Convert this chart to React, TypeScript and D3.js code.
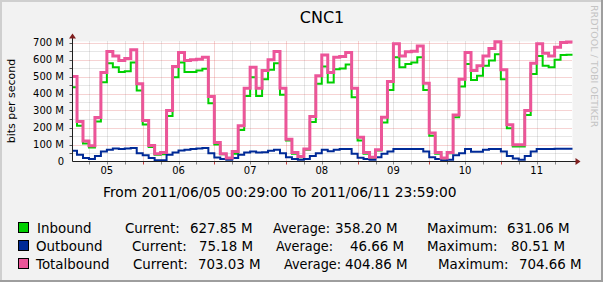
import React from "react";
import * as d3 from "d3";

const title = "CNC1";
const yLabel = "bits per second";
const dayLabels = ["05", "06", "07", "08", "09", "10", "11"];
const yTicks = [0, 100, 200, 300, 400, 500, 600, 700];
const startHour = 29 / 60; // 2011/06/05 00:29
const endHour = 168; // 2011/06/11 24:00
const binHours = 2;

const inbound = [
  437, 210, 106, 82, 235, 466, 578, 555, 527, 531, 582, 417, 218, 85,
  39, 43, 268, 496, 582, 527, 527, 535, 545, 343, 100, 43, 16, 45,
  186, 386, 496, 386, 484, 539, 578, 392, 123, 45, 25, 69, 233, 457,
  559, 465, 543, 547, 570, 378, 123, 45, 20, 65, 229, 421, 613, 555,
  574, 582, 613, 421, 151, 45, 16, 49, 261, 441, 574, 480, 504, 563,
  594, 631, 484, 196, 88, 88, 274, 515, 621, 563, 555, 598, 627, 628,
];
const outbound = [
  63, 39, 20, 14, 33, 59, 69, 76, 73, 76, 80, 49, 37, 20,
  8, 8, 39, 53, 65, 69, 73, 76, 80, 49, 24, 14, 10, 20,
  40, 53, 59, 53, 55, 63, 69, 49, 25, 14, 10, 14, 33, 49,
  69, 61, 69, 73, 73, 45, 22, 14, 10, 25, 45, 59, 73, 73,
  73, 73, 73, 59, 25, 14, 6, 10, 37, 49, 73, 57, 57, 69,
  73, 73, 59, 33, 18, 10, 33, 59, 73, 74, 74, 75, 75, 75,
];
const totalbound = [
  500, 235, 120, 92, 259, 523, 647, 621, 594, 606, 657, 457, 241, 94,
  45, 53, 300, 559, 641, 594, 598, 602, 613, 382, 112, 45, 20, 59,
  210, 431, 555, 431, 535, 598, 647, 431, 131, 53, 29, 73, 265, 504,
  627, 523, 613, 617, 641, 431, 143, 53, 25, 69, 261, 470, 692, 621,
  645, 649, 680, 461, 167, 53, 20, 53, 274, 484, 641, 535, 563, 621,
  664, 704, 539, 216, 98, 98, 300, 578, 692, 637, 621, 672, 700, 703,
];

const seriesNames = ["Inbound", "Outbound", "Totalbound"];
const seriesColors = ["#00CF00", "#002A97", "#EC5599"];
const currentVals = ["627.85 M", "75.18 M", "703.03 M"];
const averageVals = ["358.20 M", "46.66 M", "404.86 M"];
const maximumVals = ["631.06 M", "80.51 M", "704.66 M"];
const footer = "From 2011/06/05 00:29:00 To 2011/06/11 23:59:00";

const W = 603;
const H = 282;
const FONT = "'DejaVu Sans', sans-serif";

function stepPoints(vals: number[]): [number, number][] {
  const pts: [number, number][] = [];
  vals.forEach((v, k) => {
    const s = Math.max(startHour, k * binHours);
    const e = Math.min(endHour, (k + 1) * binHours);
    pts.push([s, v], [e, v]);
  });
  return pts;
}

export default function App() {
  const x = d3.scaleLinear().domain([startHour, endHour]).range([72.5, 572.5]);
  const y = d3.scaleLinear().domain([0, 700]).range([161.5, 42.5]);
  const line = d3
    .line<[number, number]>()
    .x((d) => x(d[0]))
    .y((d) => y(d[1]));

  const minorH = d3.range(50, 701, 100);
  const majorH = d3.range(100, 701, 100);
  const minorV = d3.range(6, endHour, 6).filter((h) => h % 24 !== 0);
  const majorV = d3.range(24, endHour, 24);

  const left = 72.5;
  const right = 572.5;
  const top = 41.5;
  const bottom = 161.5;

  const rows = [233, 251, 269];
  const legendX = [
    [37, 125, 190, 273, 335, 427, 507],
    [36, 132, 199, 276, 350, 427, 511],
    [36, 133, 198, 284, 345, 438, 519],
  ];
  const series = [inbound, outbound, totalbound];
  const widths = [2, 2, 3];

  return (
    <svg
      width={W}
      height={H}
      style={{ position: "absolute", left: 0, top: 0, display: "block" }}
      fontFamily={FONT}
    >
      <rect x={0} y={0} width={W} height={H} fill="#F2F2F2" />
      {/* frame */}
      <rect x={0} y={0} width={W} height={2} fill="#CFCFCF" />
      <rect x={0} y={0} width={2} height={H} fill="#CFCFCF" />
      <rect x={0} y={H - 2} width={W} height={2} fill="#9E9E9E" />
      <rect x={W - 2} y={0} width={2} height={H} fill="#9E9E9E" />

      <rect x={left} y={top} width={right - left} height={bottom - top} fill="#FFFFFF" />

      {/* grid */}
      <g strokeWidth={1} strokeDasharray="1,1">
        {minorH.map((v) => (
          <line key={"mh" + v} x1={left - 2} x2={right} y1={Math.round(y(v)) + 0.5} y2={Math.round(y(v)) + 0.5} stroke="rgba(143,143,143,0.45)" />
        ))}
        {minorV.map((h) => (
          <line key={"mv" + h} x1={Math.round(x(h)) + 0.5} x2={Math.round(x(h)) + 0.5} y1={top} y2={bottom + 2} stroke="rgba(143,143,143,0.45)" />
        ))}
        {majorH.map((v) => (
          <line key={"Mh" + v} x1={left - 2} x2={right} y1={Math.round(y(v)) + 0.5} y2={Math.round(y(v)) + 0.5} stroke="rgba(222,79,79,0.5)" />
        ))}
        {majorV.map((h) => (
          <line key={"Mv" + h} x1={Math.round(x(h)) + 0.5} x2={Math.round(x(h)) + 0.5} y1={top} y2={bottom + 2} stroke="rgba(222,79,79,0.5)" />
        ))}
      </g>
      {/* ticks */}
      <g strokeWidth={1}>
        {minorH.concat(majorH).map((v) => (
          <line key={"th" + v} x1={left - 3} x2={left} y1={Math.round(y(v)) + 0.5} y2={Math.round(y(v)) + 0.5} stroke="#555" />
        ))}
        {minorV.map((h) => (
          <line key={"tv" + h} x1={Math.round(x(h)) + 0.5} x2={Math.round(x(h)) + 0.5} y1={bottom} y2={bottom + 3} stroke="#888" />
        ))}
        {majorV.map((h) => (
          <line key={"tV" + h} x1={Math.round(x(h)) + 0.5} x2={Math.round(x(h)) + 0.5} y1={bottom} y2={bottom + 3} stroke="#C04040" />
        ))}
      </g>

      {/* data */}
      {series.map((s, i) => (
        <path
          key={seriesNames[i]}
          d={line(stepPoints(s)) || ""}
          fill="none"
          stroke={seriesColors[i]}
          strokeWidth={widths[i]}
          strokeLinejoin="miter"
        />
      ))}

      {/* axes */}
      <line x1={left} x2={right + 4} y1={bottom} y2={bottom} stroke="#1F1F1F" strokeWidth={1} />
      <line x1={left} x2={left} y1={bottom} y2={top - 4} stroke="#1F1F1F" strokeWidth={1} />
      <path d={`M${right + 3},${bottom - 3.5}L${right + 8},${bottom}L${right + 3},${bottom + 3.5}Z`} fill="#801F1F" />
      <path d={`M${left - 3.5},${top - 3}L${left},${top - 8}L${left + 3.5},${top - 3}Z`} fill="#801F1F" />

      {/* y tick labels */}
      {yTicks.map((v) => (
        <text key={"yl" + v} x={64} y={y(v) + 3.5} fontSize={10} textAnchor="end" fill="#000">
          {v === 0 ? "0" : `${v} M`}
        </text>
      ))}
      {/* x labels at noon */}
      {dayLabels.map((d, i) => (
        <text key={"xl" + d} x={x(i * 24 + 12)} y={174} fontSize={10} textAnchor="middle" fill="#000">
          {d}
        </text>
      ))}

      <text x={322} y={23} fontSize={16} textAnchor="middle" fill="#000">
        {title}
      </text>
      <text transform="translate(15,101) rotate(-90)" fontSize={11} textAnchor="middle" fill="#000">
        {yLabel}
      </text>
      <text transform="translate(591,5) rotate(90)" fontSize={9.5} fill="#C4C4C4">
        RRDTOOL / TOBI OETIKER
      </text>

      <text x={103} y={197} fontSize={13.8} fill="#000">
        {footer}
      </text>

      {seriesNames.map((n, i) => {
        const yy = rows[i];
        const xs = legendX[i];
        return (
          <g key={"lg" + n} fontSize={13.4} fill="#000">
            <rect x={18.5} y={yy - 10.5} width={10} height={10} fill={seriesColors[i]} stroke="#000" strokeWidth={1} />
            <text x={xs[0]} y={yy}>{n}</text>
            <text x={xs[1]} y={yy}>Current:</text>
            <text x={xs[2]} y={yy}>{currentVals[i]}</text>
            <text x={xs[3]} y={yy} textLength={57} lengthAdjust="spacingAndGlyphs">Average:</text>
            <text x={xs[4]} y={yy}>{averageVals[i]}</text>
            <text x={xs[5]} y={yy}>Maximum:</text>
            <text x={xs[6]} y={yy}>{maximumVals[i]}</text>
          </g>
        );
      })}
    </svg>
  );
}
